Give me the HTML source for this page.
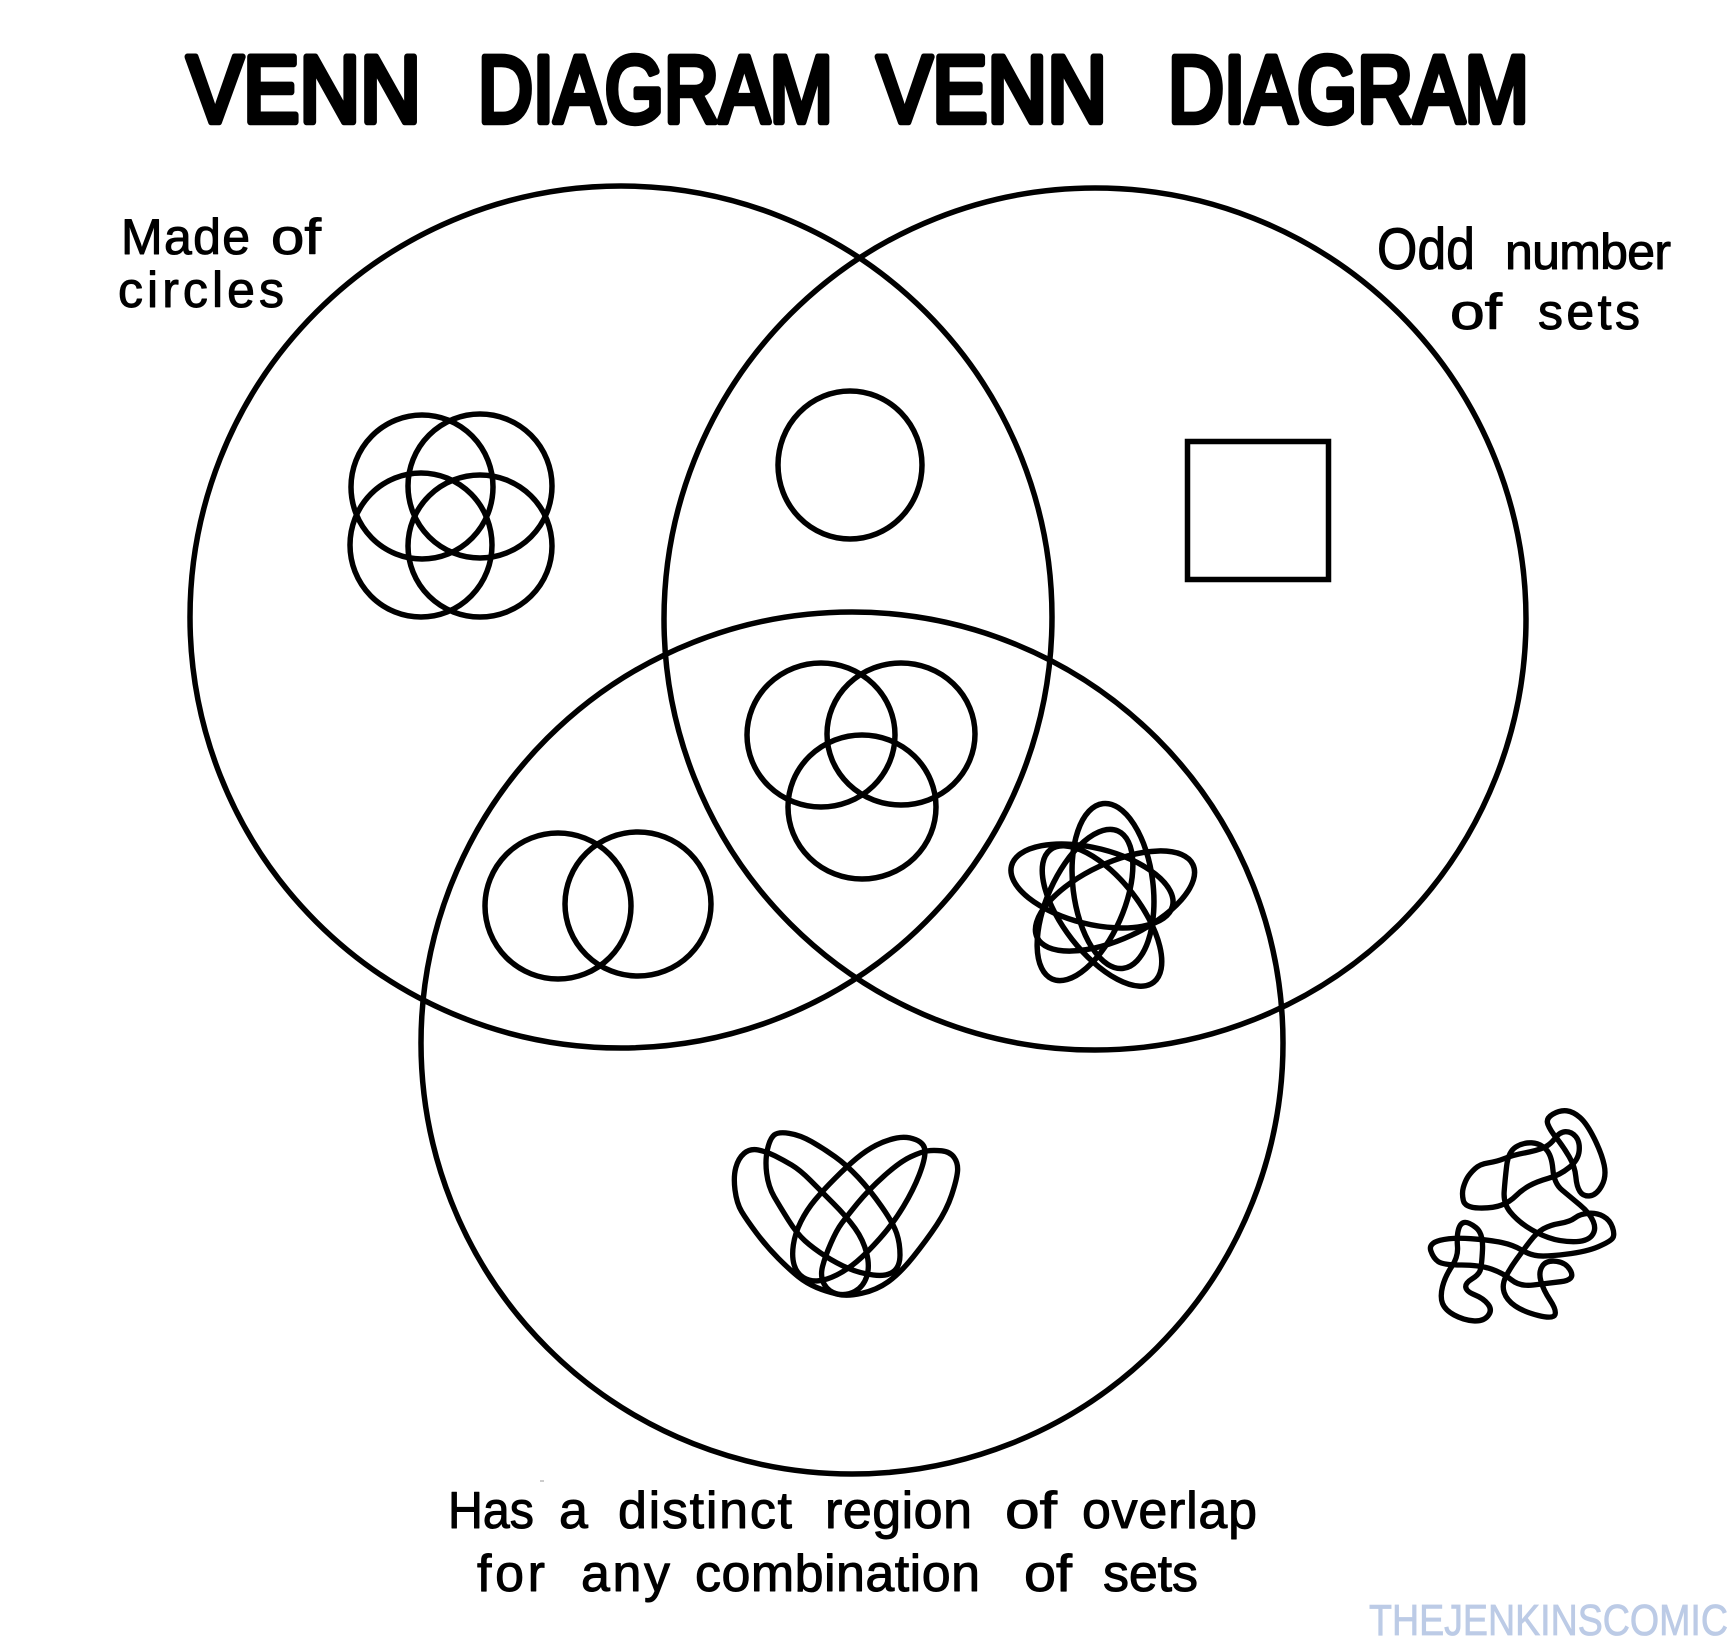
<!DOCTYPE html>
<html lang="en">
<head>
<meta charset="utf-8">
<title>Venn Diagram Venn Diagram</title>
<style>
html,body{margin:0;padding:0;background:#fff}
svg{display:block}
.s{fill:none;stroke:#000;stroke-width:5.5;stroke-linejoin:round;stroke-linecap:round}
.t{font-family:"Liberation Sans",sans-serif;font-weight:400;font-size:95px;fill:#000;stroke:#000;stroke-width:6.5;stroke-linejoin:round;stroke-linecap:round}
.l{font-family:"Liberation Sans",sans-serif;font-size:50px;fill:#000;stroke:#000;stroke-width:1;stroke-linejoin:round}
.b{font-size:52px}
.w{font-family:"Liberation Sans",sans-serif;font-size:44px;fill:#bccbe6;stroke:#bccbe6;stroke-width:.8}
</style>
</head>
<body>
<svg xmlns="http://www.w3.org/2000/svg" width="1736" height="1648" viewBox="0 0 1736 1648">
<rect width="1736" height="1648" fill="#fff"/>

<!-- Title -->
<text class="t" x="187" y="122" textLength="234" lengthAdjust="spacingAndGlyphs">VENN</text>
<text class="t" x="478" y="122" textLength="355" lengthAdjust="spacingAndGlyphs">DIAGRAM</text>
<text class="t" x="877" y="122" textLength="230" lengthAdjust="spacingAndGlyphs">VENN</text>
<text class="t" x="1168" y="122" textLength="361" lengthAdjust="spacingAndGlyphs">DIAGRAM</text>

<!-- Main circles -->
<circle class="s" cx="621" cy="617" r="431"/>
<circle class="s" cx="1095" cy="619" r="431"/>
<circle class="s" cx="852" cy="1043" r="431"/>

<!-- Labels -->
<text class="l" x="121" y="254" textLength="129" lengthAdjust="spacing">Made</text>
<text class="l" x="271" y="254" textLength="50" lengthAdjust="spacingAndGlyphs">of</text>
<text class="l" x="118" y="307" textLength="166" lengthAdjust="spacing">circles</text>
<text class="l" style="font-size:58px" x="1377" y="269" textLength="98" lengthAdjust="spacingAndGlyphs">Odd</text>
<text class="l" x="1505" y="269" textLength="166" lengthAdjust="spacing">number</text>
<text class="l" x="1450" y="329" textLength="52" lengthAdjust="spacingAndGlyphs">of</text>
<text class="l" x="1538" y="329" textLength="102" lengthAdjust="spacing">sets</text>

<text class="l b" x="448" y="1528" textLength="86" lengthAdjust="spacingAndGlyphs">Has</text>
<text class="l b" x="559" y="1528" textLength="28" lengthAdjust="spacing">a</text>
<text class="l b" x="618" y="1528" textLength="174" lengthAdjust="spacing">distinct</text>
<text class="l b" x="825" y="1528" textLength="147" lengthAdjust="spacing">region</text>
<text class="l b" x="1005" y="1528" textLength="52" lengthAdjust="spacingAndGlyphs">of</text>
<text class="l b" x="1082" y="1528" textLength="175" lengthAdjust="spacing">overlap</text>

<text class="l b" x="477" y="1591" textLength="68" lengthAdjust="spacing">for</text>
<text class="l b" x="581" y="1591" textLength="89" lengthAdjust="spacing">any</text>
<text class="l b" x="695" y="1591" textLength="285" lengthAdjust="spacing">combination</text>
<text class="l b" x="1024" y="1591" textLength="48" lengthAdjust="spacingAndGlyphs">of</text>
<text class="l b" x="1103" y="1591" textLength="95" lengthAdjust="spacing">sets</text>

<text class="w" x="1369" y="1635" textLength="359" lengthAdjust="spacingAndGlyphs">THEJENKINSCOMIC</text>
<line x1="540" y1="1481" x2="544" y2="1481" stroke="#999" stroke-width="1"/>

<!-- Four circles -->
<ellipse class="s" cx="422" cy="487" rx="71" ry="72"/>
<ellipse class="s" cx="480" cy="486" rx="72" ry="72"/>
<ellipse class="s" cx="421" cy="545" rx="71" ry="72"/>
<ellipse class="s" cx="480" cy="546" rx="72" ry="71"/>

<!-- One circle -->
<ellipse class="s" cx="850" cy="465" rx="72" ry="74"/>

<!-- Square -->
<rect class="s" style="stroke-linejoin:miter" x="1187.5" y="441.5" width="141" height="138"/>

<!-- Three circles -->
<ellipse class="s" cx="821" cy="735" rx="74" ry="72"/>
<ellipse class="s" cx="901" cy="734" rx="74" ry="71"/>
<ellipse class="s" cx="862" cy="807" rx="74" ry="72"/>

<!-- Two circles -->
<ellipse class="s" cx="558" cy="906" rx="73" ry="73"/>
<ellipse class="s" cx="638" cy="904" rx="73" ry="72"/>

<!-- Five ellipses -->
<ellipse class="s" cx="1113" cy="886" rx="40" ry="83" transform="rotate(-7 1113 886)"/>
<ellipse class="s" cx="1115" cy="901" rx="38" ry="86" transform="rotate(65 1115 901)"/>
<ellipse class="s" cx="1102" cy="916" rx="38" ry="84" transform="rotate(142 1102 916)"/>
<ellipse class="s" cx="1085" cy="905" rx="38" ry="81" transform="rotate(204 1085 905)"/>
<ellipse class="s" cx="1092" cy="886" rx="38" ry="83" transform="rotate(-76 1092 886)"/>

<!-- Heart of ellipses -->
<g transform="translate(700 1110) scale(.33333)" fill="none" stroke="#000" stroke-width="16" stroke-linejoin="round" stroke-linecap="round">
<polygon class="sm" points="150,115 200,125 250,150 300,180 360,240 440,320 490,390 510,470 490,530 440,558 380,545 320,520 270,480 200,410 140,330 110,280 100,200 115,145"/>
<polygon class="sm" points="235,65 300,75 370,115 440,165 510,240 580,340 600,400 600,470 560,500 480,490 410,460 340,415 290,370 240,290 205,230 195,150 210,85"/>
<polygon class="sm" points="620,78 560,90 500,120 440,170 370,240 320,300 285,370 275,440 290,490 330,515 380,510 440,480 500,430 580,340 640,240 675,150 675,100"/>
<polygon class="sm" points="700,120 750,125 775,160 770,210 740,300 680,390 600,490 530,540 440,560 385,545 360,500 375,440 410,360 440,320 505,240 600,155 665,125"/>
</g>

<!-- Tangle -->
<g transform="translate(1380 1080) scale(.33333)" fill="none" stroke="#000" stroke-width="16" stroke-linejoin="round" stroke-linecap="round">
<polygon class="sm" points="255,383 245,340 255,305 270,280 300,252 350,245 400,225 470,212 510,195 540,155 575,155 600,185 595,240 540,285 470,305 425,330 390,365 340,385"/>
<polygon class="sm" points="385,215 430,187 480,190 515,225 522,310 570,350 630,400 650,450 620,485 540,485 470,460 410,420 370,370 375,300"/>
<polygon class="sm" points="497,115 540,90 580,95 620,130 665,220 680,290 650,345 610,350 590,320 585,260 550,200 510,150"/>
<polygon class="sm" points="145,490 215,472 330,480 400,495 450,525 500,530 620,515 690,485 705,465 690,420 650,398 600,402 570,425 510,435 470,458 430,510 390,565 365,615 380,660 430,695 520,718 530,690 490,630 475,575 500,540 560,548 585,600 500,610 420,620 370,580 300,555 190,555 160,535"/>
<polygon class="sm" points="240,430 265,425 310,460 305,560 295,585 255,610 260,635 310,655 338,690 310,725 250,720 195,690 180,650 195,590 235,530 230,470"/>
</g>
</svg>
<script>
document.querySelectorAll('polygon.sm').forEach(function(p){
  var n=p.getAttribute('points').trim().split(/\s+/).map(function(s){return s.split(',').map(Number)});
  var L=n.length,m=function(a,b){return ((a[0]+b[0])/2)+' '+((a[1]+b[1])/2)};
  var d='M'+m(n[L-1],n[0]);
  for(var i=0;i<L;i++){d+=' Q'+n[i][0]+' '+n[i][1]+' '+m(n[i],n[(i+1)%L]);}
  var q=document.createElementNS('http://www.w3.org/2000/svg','path');
  q.setAttribute('d',d+'Z');
  p.parentNode.replaceChild(q,p);
});
</script>
</body>
</html>
